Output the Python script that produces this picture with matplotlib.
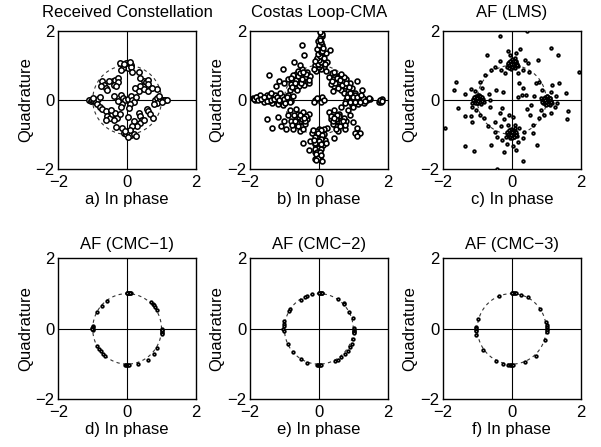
import numpy as np
import matplotlib
matplotlib.use("Agg")
import matplotlib.pyplot as plt

plt.rcParams['font.family'] = ['Liberation Sans', 'DejaVu Sans']
plt.rcParams['font.size'] = 12

titles = ["Received Constellation", "Costas Loop-CMA", "AF (LMS)",
          "AF (CMC\u22121)", "AF (CMC\u22122)", "AF (CMC\u22123)"]
xlabels = ["a) In phase", "b) In phase", "c) In phase",
           "d) In phase", "e) In phase", "f) In phase"]
ticks = [-2, 0, 2]
tick_labels = ["\u22122", "0", "2"]

# (a) received symbols
rx_a = [
    (-0.02, 1.07), (0.05, 1.04), (0.12, 1.02), (-0.05, 0.97), (0.02, 0.92), (-0.12, 0.92),
    (0.10, 0.95), (-0.22, 1.07), (-0.17, 0.88), (0.14, 0.81), (0.36, 0.80), (-0.08, 1.05), (0.08, 1.09),
    (0.48, 0.54), (0.38, 0.39), (0.56, 0.51), (0.62, 0.59), (0.60, 0.47), (0.38, 0.63), (0.24, 0.35),
    (0.34, 0.25), (0.50, 0.32), (0.62, 0.25), (0.87, 0.32), (0.72, 0.35),
    (-0.72, 0.54), (-0.67, 0.44), (-0.62, 0.35), (-0.58, 0.28), (-0.40, 0.56), (-0.34, 0.59),
    (-0.27, 0.63), (-0.37, 0.44), (-0.27, 0.51), (-0.31, 0.39), (-0.53, 0.54), (-0.77, 0.41),
    (-0.19, 0.15), (-0.12, 0.06), (-0.05, 0.01), (0.02, 0.03), (0.10, 0.11), (0.14, -0.01),
    (0.21, -0.07), (0.08, -0.11), (-0.14, -0.11), (-0.27, -0.04), (-0.19, -0.20), (-0.37, 0.11),
    (0.27, 0.09), (0.05, -0.23), (0.02, -0.49),
    (-1.11, 0.00), (-1.06, -0.02), (-1.01, 0.01), (-0.96, -0.04), (-0.91, -0.07), (-0.85, 0.03),
    (-0.79, 0.09), (-0.88, -0.13), (-0.79, -0.20), (-0.98, 0.05),
    (-0.72, -0.26), (-0.62, -0.33), (-0.58, -0.47), (-0.50, -0.52), (-0.43, -0.42), (-0.34, -0.38),
    (-0.29, -0.52), (-0.38, -0.57), (-0.60, -0.57), (-0.31, -0.78), (-0.48, -0.28), (-0.21, -0.42),
    (0.34, -0.38), (0.38, -0.47), (0.43, -0.57), (0.58, -0.26), (0.62, -0.33), (0.67, -0.42),
    (0.75, -0.52), (0.37, -0.66), (0.48, -0.57), (0.29, -0.76), (0.19, -0.62),
    (0.82, 0.01), (0.88, 0.06), (0.96, 0.03), (1.04, 0.01), (1.11, 0.00), (1.15, 0.01),
    (0.87, -0.09), (0.77, -0.13), (0.94, 0.11), (1.01, -0.05),
    (-0.10, -0.95), (-0.02, -1.00), (0.05, -0.97), (0.12, -1.03), (0.19, -1.00), (0.27, -1.05),
    (0.02, -1.07), (-0.14, -0.81), (0.14, -0.76), (0.08, -0.86), (-0.05, -0.90),
]

# (b) Costas loop + CMA output
eq_b = [
    (0.06, 1.95), (0.05, 1.90), (0.08, 1.85), (0.04, 1.62), (0.07, 1.55), (0.02, 1.50), (0.06, 1.45),
    (0.00, 1.40), (0.04, 1.35), (0.08, 1.30), (-0.02, 1.25), (0.05, 1.20), (0.10, 1.15), (-0.05, 1.10),
    (0.02, 1.05), (0.12, 1.05), (-0.10, 1.00), (0.15, 0.95), (0.05, 0.90), (-0.08, 0.85), (0.20, 0.85),
    (0.25, 1.10), (0.32, 1.45), (0.20, 1.35), (-0.02, 1.70), (0.03, 1.78), (0.09, 1.60), (-0.04, 1.18),
    (0.00, 0.95), (0.03, 1.00), (-0.03, 1.05), (0.07, 1.10), (0.00, 1.15), (-0.06, 1.22), (0.10, 1.25),
    (0.02, 1.28), (-0.03, 1.33), (0.06, 1.38), (0.10, 1.42), (-0.04, 1.48), (0.01, 1.58), (0.11, 1.50),
    (0.05, 1.68), (0.04, 1.74), (0.08, 1.92), (0.02, 1.97), (0.15, 1.20), (-0.12, 1.12), (0.18, 1.05),
    (-0.15, 0.90),
    (-0.49, 1.60), (-0.43, 1.30), (-0.72, 1.10), (-1.05, 0.90), (-1.45, 0.72), (0.38, 0.78), (0.45, 0.80),
    (-0.75, 0.55), (-0.70, 0.65), (-0.62, 0.50), (-0.55, 0.62), (-0.50, 0.70), (-0.45, 0.55),
    (-0.65, 0.75), (-0.80, 0.45), (-0.58, 0.40), (-0.40, 0.65), (-0.35, 0.80), (-0.70, 0.35),
    (-0.90, 0.60), (-0.50, 0.90), (-0.30, 0.50), (-0.85, 0.30), (-1.00, 0.50), (-0.60, 0.85),
    (-0.42, 0.42), (-0.75, 0.72), (-1.15, 0.55), (-1.25, 0.40), (-0.25, 0.70), (-0.55, 1.00),
    (-0.66, 0.58), (-0.52, 0.48), (-0.60, 0.70), (-0.48, 0.60), (-0.68, 0.48), (-0.38, 0.75),
    (-0.82, 0.62), (-0.55, 0.78), (-0.30, 0.58), (-0.62, 0.30), (-0.78, 0.38), (-0.45, 0.82),
    (0.40, 0.60), (0.50, 0.55), (0.60, 0.45), (0.70, 0.55), (0.55, 0.70), (0.45, 0.40), (0.75, 0.40),
    (0.80, 0.60), (0.65, 0.30), (0.35, 0.45), (0.90, 0.50), (0.95, 0.35), (0.85, 0.25), (1.10, 0.55),
    (1.25, 0.30), (0.30, 0.65), (0.42, 0.25), (0.60, 0.65), (0.72, 0.20), (1.05, 0.20), (0.58, 0.52),
    (0.52, 0.62), (0.62, 0.58), (0.68, 0.42), (0.48, 0.48), (0.80, 0.48), (0.38, 0.55), (0.72, 0.65),
    (0.55, 0.35), (0.88, 0.38), (0.65, 0.75),
    (-0.45, -0.50), (-0.55, -0.60), (-0.65, -0.55), (-0.70, -0.70), (-0.50, -0.75), (-0.80, -0.60),
    (-0.60, -0.40), (-0.40, -0.70), (-0.90, -0.45), (-1.00, -0.60), (-0.75, -0.85), (-0.35, -0.55),
    (-0.30, -0.40), (-1.10, -0.75), (-0.85, -0.30), (-0.55, -0.90), (-0.45, -0.35), (-1.20, -0.50),
    (-0.65, -0.25), (-0.95, -0.85), (-0.58, -0.50), (-0.72, -0.45), (-0.50, -0.55), (-0.62, -0.66),
    (-0.40, -0.62), (-0.56, -0.44), (-0.68, -0.60), (-0.47, -0.83), (-0.36, -0.46), (-0.79, -0.72),
    (-0.60, -0.77), (-0.42, -0.52),
    (0.45, -0.50), (0.55, -0.60), (0.65, -0.55), (0.70, -0.70), (0.50, -0.75), (0.80, -0.60),
    (0.60, -0.40), (0.40, -0.70), (0.90, -0.45), (1.00, -0.65), (0.75, -0.85), (0.35, -0.55),
    (0.30, -0.35), (0.85, -0.30), (0.55, -0.90), (1.10, -0.80), (0.45, -0.30), (1.05, -0.95),
    (0.25, -0.80), (0.65, -0.20), (0.58, -0.48), (0.72, -0.52), (0.51, -0.56), (0.63, -0.64),
    (0.41, -0.60), (0.54, -0.43), (0.69, -0.61), (0.49, -0.84), (0.34, -0.47), (0.77, -0.73),
    (0.61, -0.76), (0.43, -0.51),
    (-1.90, 0.05), (-1.85, 0.00), (-1.80, 0.07), (-1.72, 0.02), (-1.65, 0.06), (-1.55, 0.00),
    (-1.48, 0.05), (-1.40, 0.02), (-1.32, 0.08), (-1.25, 0.00), (-1.18, 0.05), (-1.10, 0.02),
    (-1.02, 0.06), (-0.95, 0.00), (-0.88, 0.05), (-0.80, -0.02), (-1.70, 0.15), (-1.50, 0.15),
    (-1.35, -0.10), (-1.20, -0.12), (-1.05, -0.15), (-0.90, 0.15), (-0.75, 0.12), (-1.60, -0.05),
    (-1.28, 0.15), (-1.44, -0.04), (-1.14, -0.04), (-1.88, 0.02), (-1.82, 0.08), (-1.76, 0.00),
    (-1.68, 0.04), (-1.58, 0.08), (-1.52, -0.02), (-1.45, 0.10), (-1.38, 0.00), (-1.30, 0.03),
    (-1.22, 0.08), (-1.15, 0.00), (-1.08, 0.10), (-1.00, 0.02), (-0.92, 0.08), (-0.85, -0.05),
    (-1.40, 0.20), (-1.12, 0.20), (-0.98, -0.10),
    (0.80, 0.00), (0.88, 0.05), (0.95, -0.02), (1.02, 0.05), (1.10, 0.00), (1.18, 0.03), (1.25, -0.02),
    (1.32, 0.04), (1.40, 0.00), (1.50, 0.03), (1.75, -0.06), (1.80, -0.06), (1.85, 0.02), (0.85, 0.18),
    (0.95, -0.15), (1.05, 0.15), (1.15, -0.12), (0.75, -0.10), (1.30, -0.10), (0.90, 0.10),
    (0.82, 0.08), (0.90, -0.05), (0.98, 0.08), (1.05, -0.05), (1.12, 0.08), (1.20, -0.06),
    (1.28, 0.06), (1.35, -0.04), (1.45, 0.06), (0.92, 0.20), (1.00, -0.20), (1.22, 0.15),
    (1.78, 0.00), (1.83, -0.03),
    (0.00, -0.85), (-0.05, -0.90), (0.05, -0.95), (-0.10, -1.00), (0.02, -1.05), (-0.06, -1.10),
    (0.04, -1.15), (-0.08, -1.20), (0.00, -1.25), (-0.04, -1.30), (0.03, -1.35), (-0.07, -1.40),
    (-0.02, -1.45), (-0.10, -1.50), (0.00, -1.55), (-0.05, -1.60), (0.02, -1.65), (-0.10, -1.70),
    (0.10, -1.78), (0.15, -1.00), (0.18, -1.15), (-0.20, -0.95), (-0.25, -1.20), (-0.28, -1.45),
    (0.15, -0.85), (0.12, -1.30), (0.08, -1.08), (-0.12, -1.28), (0.05, -0.88), (-0.02, -0.95),
    (0.08, -1.02), (-0.12, -1.08), (0.05, -1.12), (0.00, -1.18), (-0.10, -1.25), (0.06, -1.28),
    (-0.02, -1.38), (0.06, -1.42), (-0.12, -1.42), (-0.05, -1.50), (0.04, -1.52), (-0.08, -1.58),
    (-0.02, -1.68), (-0.08, -1.75), (0.05, -1.60), (-0.15, -1.15), (0.20, -1.25), (-0.18, -0.88),
    (-0.12, 0.00), (-0.05, 0.05), (0.05, -0.05), (0.10, 0.08), (0.15, 0.00), (-0.15, -0.05),
    (-1.50, -0.55), (-1.35, -0.80), (1.20, -0.95), (1.10, -1.05), (-0.45, -1.25), (0.45, -1.10),
]

# (c) adaptive filter, LMS
eq_c = [
    (-0.33, 1.85), (0.44, 1.99), (-1.94, -0.82), (-0.42, -1.99), (1.95, 0.82), (1.15, 1.49),
    (1.33, 1.30), (-0.71, 1.30), (0.32, -1.78), (-1.10, -1.49), (-1.35, -1.33), (0.73, -1.30),
    (-1.61, 0.53), (-1.67, 0.29), (-1.56, -0.24), (-1.35, -0.48), (-1.19, -0.48), (1.63, -0.31),
    (1.60, -0.56), (1.36, 0.48), (1.18, 0.43), (1.57, 0.21), (0.25, 1.46), (-0.12, 1.42),
    (0.13, 1.35), (-0.04, 1.30), (0.38, 1.15), (0.75, 1.17), (-0.33, 1.13), (-0.50, 0.96),
    (-0.60, 0.87), (-0.79, 0.72), (-0.93, 0.53), (-1.19, 0.31), (-1.08, 0.27), (-1.37, 0.17),
    (-0.87, 0.34), (-0.67, 0.17), (-0.45, 0.29), (-0.26, 0.24), (0.22, 0.48), (0.32, 0.34),
    (0.29, 0.14), (0.19, 0.08), (0.41, 0.14), (0.44, -0.27), (0.56, -0.14), (0.54, -0.43),
    (0.65, 0.10), (0.70, 0.48), (0.80, 0.53), (0.89, 0.29), (1.13, 0.24), (1.28, 0.10),
    (1.31, -0.10), (1.25, -0.21), (1.13, -0.38), (0.94, -0.43), (0.80, -0.53), (0.85, -0.29),
    (0.49, 0.82), (0.46, 1.06), (-0.31, 0.87), (-0.21, 0.77), (0.19, 0.79), (0.32, 0.87),
    (-0.29, -0.24), (-0.33, -0.38), (-0.23, -0.56), (-0.50, -0.63), (-0.69, -0.75), (-0.81, -0.53),
    (-0.93, -0.43), (-1.03, -0.29), (-1.15, -0.21), (-0.64, -0.21), (-0.64, 0.00), (-0.31, -0.75),
    (-0.12, -0.72), (0.10, -0.72), (0.22, -0.82), (0.37, -0.94), (0.32, -1.11), (0.17, -1.23),
    (0.03, -1.33), (-0.13, -1.27), (-0.29, -1.15), (-0.42, -1.08), (-0.50, -0.94), (0.13, -1.46),
    (-0.23, -1.52), (0.03, -0.50), (-0.07, -0.43), (0.61, -0.72), (0.63, -0.96), (-0.60, -1.30),
    (-1.15, -0.63),
    # dense groups around the four symbols
    (0.00, 1.05), (0.05, 1.08), (-0.05, 1.02), (0.10, 1.00), (-0.08, 1.10), (0.03, 0.95),
    (0.12, 1.12), (-0.10, 0.98), (0.06, 1.15), (-0.03, 1.12), (0.15, 1.05), (-0.12, 1.05),
    (0.08, 0.92), (-0.02, 0.90), (0.00, 1.18), (0.18, 0.98), (-0.15, 0.95), (0.10, 1.20),
    (0.02, 1.00), (0.07, 1.03), (-0.04, 1.07), (0.04, 1.06), (-0.01, 1.04), (0.06, 1.00),
    (-0.06, 1.06), (0.09, 1.07), (0.01, 1.10), (-0.03, 0.98), (0.11, 1.03), (-0.09, 1.02),
    (0.03, 1.13), (0.07, 0.97), (-0.05, 1.14), (0.13, 1.09), (-0.11, 1.08), (0.00, 0.94),
    (0.08, 1.12), (0.14, 1.00), (-0.07, 0.93), (0.02, 1.03), (0.04, 1.02), (0.01, 1.07),
    (0.05, 1.05), (-0.02, 1.05),
    (-1.00, 0.02), (-0.95, 0.05), (-1.05, -0.01), (-0.90, 0.00), (-1.08, 0.07), (-0.97, -0.08),
    (-0.88, 0.09), (-1.10, -0.05), (-0.94, 0.12), (-1.03, 0.10), (-0.85, 0.02), (-1.12, 0.03),
    (-0.92, -0.05), (-1.02, -0.10), (-0.98, 0.15), (-0.82, -0.05), (-1.15, -0.08), (-0.90, -0.12),
    (-1.00, 0.06), (-0.96, -0.02), (-1.06, 0.04), (-0.98, 0.03), (-1.01, 0.00), (-0.94, -0.01),
    (-1.04, 0.04), (-0.96, 0.08), (-1.07, 0.00), (-0.90, 0.05), (-1.02, -0.05), (-0.93, -0.06),
    (-1.09, 0.09), (-0.99, 0.11), (-0.87, -0.02), (-1.06, -0.09), (-0.95, 0.14), (-1.12, -0.01),
    (-0.91, 0.10), (-1.00, -0.10), (-0.86, 0.07), (-0.99, 0.01), (-0.97, 0.04), (-1.03, 0.02),
    (-0.98, -0.04), (-1.01, 0.06),
    (1.00, -0.03), (1.05, 0.00), (0.95, -0.06), (1.10, -0.03), (0.92, 0.04), (1.03, -0.11),
    (1.12, 0.06), (0.90, -0.08), (1.06, 0.09), (0.97, 0.07), (1.15, -0.03), (0.88, -0.01),
    (1.08, -0.08), (0.98, -0.13), (1.02, 0.12), (1.18, -0.08), (0.85, 0.05), (1.10, -0.15),
    (1.00, 0.02), (1.04, -0.05), (0.94, -0.01), (0.99, -0.02), (1.02, -0.06), (0.96, 0.01),
    (1.07, -0.04), (0.94, -0.05), (1.04, 0.03), (1.09, -0.09), (0.97, -0.10), (1.01, 0.07),
    (1.12, 0.01), (0.91, -0.02), (1.06, -0.12), (0.93, 0.06), (1.14, -0.06), (0.88, -0.06),
    (1.03, 0.10), (0.99, -0.15), (1.10, 0.05), (1.01, -0.01), (0.98, -0.04), (1.03, -0.02),
    (1.00, -0.07), (0.97, -0.01),
    (-0.02, -0.98), (0.03, -0.95), (-0.07, -1.01), (0.08, -1.00), (-0.10, -0.93), (0.01, -1.06),
    (0.10, -0.90), (-0.12, -1.03), (0.04, -0.86), (-0.05, -0.88), (0.13, -0.98), (-0.14, -0.96),
    (0.06, -1.08), (-0.04, -1.10), (-0.02, -0.83), (0.16, -1.05), (-0.17, -1.08), (0.08, -0.80),
    (0.00, -0.96), (0.05, -1.02), (-0.06, -0.97), (0.00, -0.99), (-0.03, -0.96), (0.04, -1.00),
    (-0.06, -1.04), (0.07, -0.95), (-0.08, -0.97), (0.02, -1.03), (-0.01, -0.91), (0.09, -1.04),
    (-0.11, -1.00), (0.05, -0.90), (-0.04, -1.07), (0.11, -0.94), (-0.13, -0.92), (0.01, -1.10),
    (0.12, -1.01), (-0.09, -0.88), (0.06, -1.08), (-0.01, -0.97), (0.02, -0.99), (-0.04, -1.00),
    (0.01, -0.94), (-0.02, -1.02),
]

# (d)-(f) adaptive filter, CMC variants
eq_d = [
    (0.00, 1.02), (0.03, 1.02), (0.05, 1.02), (0.08, 1.02), (0.10, 1.01), (0.02, 1.01), (0.07, 1.01),
    (-0.01, 1.02), (-0.87, 0.48), (-0.74, 0.65), (-0.58, 0.80),
    (0.69, 0.77), (0.74, 0.71), (0.78, 0.68), (0.82, 0.62), (0.88, 0.53),
    (-1.00, 0.08), (-1.00, 0.05), (-1.01, 0.02), (-1.00, -0.01), (-1.00, -0.04), (-1.02, 0.00),
    (1.00, 0.00), (1.01, -0.04), (1.00, -0.08), (1.02, -0.12), (1.00, -0.15), (1.01, -0.02),
    (-0.05, -1.02), (-0.02, -1.02), (0.00, -1.02), (0.03, -1.02), (0.05, -1.02),
    (0.88, -0.53), (0.77, -0.70), (0.62, -0.87), (0.31, -0.99),
    (-0.88, -0.50), (-0.83, -0.57), (-0.77, -0.64), (-0.70, -0.71), (-0.65, -0.77),
]

eq_e = [
    (0.00, 1.02), (0.03, 1.02), (0.05, 1.02), (0.08, 1.02), (0.10, 1.01), (0.01, 1.01),
    (-0.20, 0.99), (-0.34, 0.94), (-0.41, 0.89), (-0.53, 0.83), (-0.85, 0.56), (-0.87, 0.51),
    (0.57, 0.85), (0.72, 0.73), (0.74, 0.70), (0.88, 0.49), (0.98, 0.30),
    (1.03, 0.02), (1.03, -0.02), (1.03, -0.05), (1.03, -0.08), (1.03, -0.12),
    (1.00, -0.28), (0.95, -0.42), (0.91, -0.52), (0.84, -0.62), (0.76, -0.71), (0.64, -0.81),
    (0.55, -0.87), (0.47, -0.92),
    (-0.05, -1.02), (-0.02, -1.02), (0.00, -1.02), (0.03, -1.02), (0.05, -1.02),
    (-0.34, -0.97), (-0.53, -0.86), (-0.75, -0.66), (-0.91, -0.42),
    (-1.01, 0.23), (-1.01, 0.15), (-1.02, 0.08), (-1.03, 0.01), (-1.02, -0.05),
]

eq_f = [
    (0.00, 1.02), (0.03, 1.02), (0.06, 1.02), (0.09, 1.02), (0.12, 1.01), (0.02, 1.01),
    (0.27, 0.97), (0.46, 0.90), (-0.38, 0.94), (0.83, 0.57), (-0.98, 0.28),
    (-1.03, 0.06), (-1.03, 0.02), (-1.03, -0.03), (-1.03, -0.06), (-1.03, -0.18),
    (1.00, 0.20), (1.01, 0.12), (1.02, 0.05), (1.02, 0.00), (1.02, -0.04), (1.01, -0.08),
    (0.97, -0.31), (0.70, -0.76), (0.39, -0.95),
    (-0.10, -1.02), (-0.06, -1.02), (-0.03, -1.02), (0.00, -1.02), (0.03, -1.02),
    (-0.26, -1.00), (-0.45, -0.92), (-0.84, -0.60),
]

series = [rx_a, eq_b, eq_c, eq_d, eq_e, eq_f]
marker_sizes = [3.9, 3.5, 1.9, 1.9, 1.9, 1.9]
edge_widths = [1.1, 1.2, 1.3, 1.25, 1.25, 1.25]

fig = plt.figure(figsize=(6.01, 4.47), dpi=100)
lefts = [0.097, 0.416, 0.737]
rows = [(0.622, 0.309), (0.1065, 0.3156)]
title_pads = [10.0, 7.0]
w = 0.229

theta = np.linspace(0, 2 * np.pi, 200)
for i, pts in enumerate(series):
    bottom, h = rows[i // 3]
    ax = fig.add_axes([lefts[i % 3], bottom, w, h])
    ax.set_xlim(-2, 2)
    ax.set_ylim(-2, 2)
    ax.axhline(0, color='black', lw=0.8, zorder=1)
    ax.axvline(0, color='black', lw=0.8, zorder=1)
    ax.plot(np.cos(theta), np.sin(theta), color='#333333', lw=0.8,
            ls=(0, (3, 3)), zorder=2)
    xs = [p[0] for p in pts]
    ys = [p[1] for p in pts]
    ax.plot(xs, ys, 'o', ms=marker_sizes[i], mfc='white', mec='black',
            mew=edge_widths[i], zorder=3)
    ax.set_xticks(ticks)
    ax.set_yticks(ticks)
    ax.set_xticklabels(tick_labels)
    ax.set_yticklabels(tick_labels)
    ax.tick_params(axis='x', length=0, pad=4.2, labelsize=12)
    ax.tick_params(axis='y', length=0, pad=2.5, labelsize=12)
    for s in ax.spines.values():
        s.set_linewidth(1.0)
    ax.set_title(titles[i], fontsize=12, pad=title_pads[i // 3])
    ax.set_xlabel(xlabels[i], fontsize=12, labelpad=1.5)
    ax.set_ylabel("Quadrature", fontsize=12, labelpad=2)

fig.savefig("out.png", dpi=100)
